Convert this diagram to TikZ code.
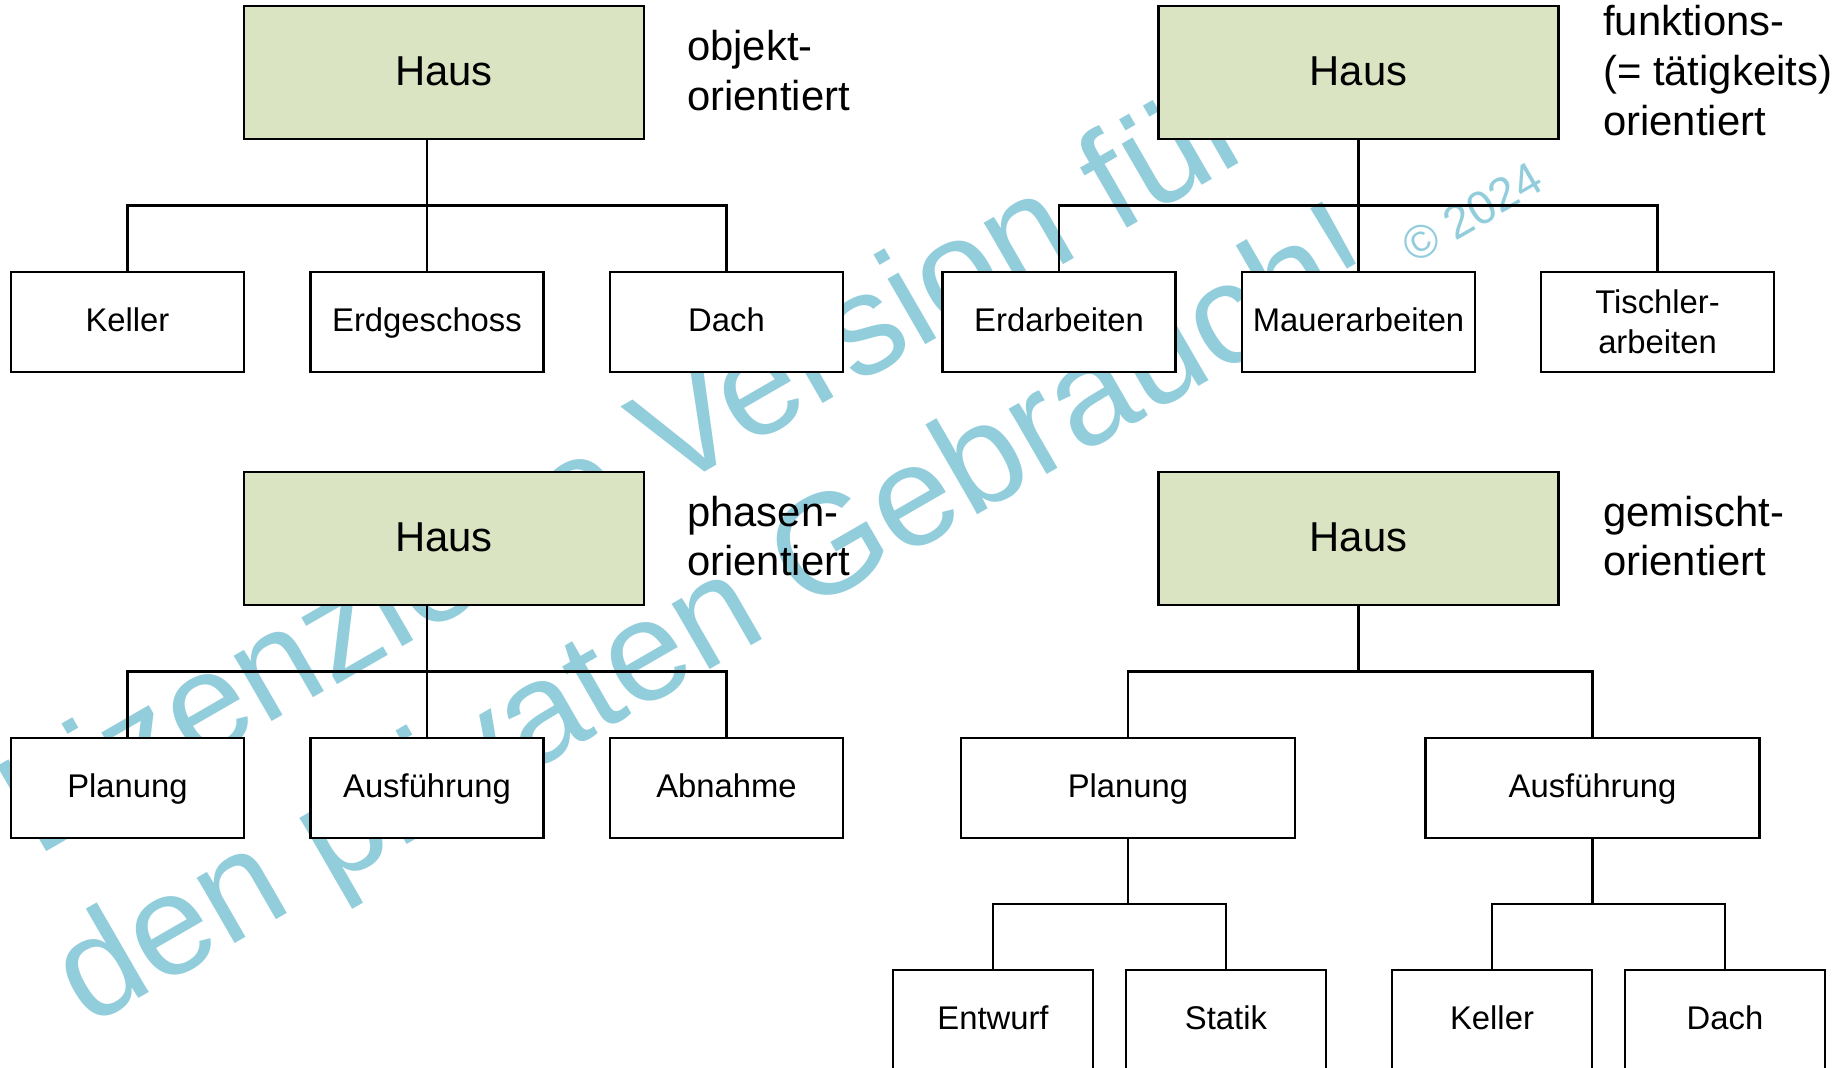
\documentclass[tikz,border=0pt]{standalone}
\usepackage{fontspec}
\setmainfont{Liberation Sans}
\usetikzlibrary{calc}
\definecolor{hausfill}{RGB}{219,228,194}
\definecolor{wmblue}{RGB}{146,205,220}
\begin{document}
\begin{tikzpicture}[x=1pt,y=-1pt,
  root/.style={draw=black, line width=2.4pt, fill=hausfill,
    minimum width=400pt, minimum height=133pt, inner sep=0pt,
    font=\fontsize{41.8}{50}\selectfont, text height=29.3pt, text depth=4.2pt},
  leaf/.style={draw=black, line width=2.2pt, fill=white,
    minimum width=233pt, minimum height=100pt, inner sep=0pt,
    font=\fontsize{32.8}{40}\selectfont, text height=23pt, text depth=3.3pt},
  wide/.style={leaf, minimum width=334pt},
  small/.style={leaf, minimum width=200pt},
  label/.style={anchor=base west, inner sep=0pt, font=\fontsize{41.8}{50}\selectfont},
  conn/.style={draw=black, line width=2.9pt},
  wm/.style={text=wmblue, anchor=base west, inner sep=0pt, rotate=30,
    font=\fontsize{143}{172}\selectfont},
  wmsmall/.style={wm, font=\fontsize{47}{56}\selectfont}
]
\path[use as bounding box, fill=white] (0,0) rectangle (1842,1068);

% watermark in the background
\node[wm] (wm1) at (36,858) {Lizenzierte Version für};
\node[wm] (wm2) at (88.6,1028) {den privaten Gebrauch!};
\node[wmsmall] (wm3) at (1414,265) {© 2024};

% object oriented
\node[root] (hausA) at (444,72.5) {Haus};
\node[leaf] (keller) at (127.5,322) {Keller};
\node[leaf] (erdg) at (427,322) {Erdgeschoss};
\node[leaf] (dachA) at (726.5,322) {Dach};
\node[label] (lblA1) at (687,60) {objekt-};
\node[label] (lblA2) at (687,110) {orientiert};
\coordinate (barA) at ($(hausA.south)!0.5!(erdg.north)$);
\draw[conn] (erdg.north |- hausA.south) -- (erdg.north);
\draw[conn] (keller.north) |- (barA) -| (dachA.north);

% function oriented
\node[root] (hausB) at (1358.5,72.5) {Haus};
\node[leaf] (erdarb) at (1059,322) {Erdarbeiten};
\node[leaf] (mauer) at (1358.5,322) {Mauerarbeiten};
\node[leaf, text height={}, text depth={}, align=center] (tisch) at (1657.5,322) {Tischler-\\arbeiten};
\node[label] (lblB1) at (1603,35) {funktions-};
\node[label] (lblB2) at (1603,85) {(= tätigkeits)};
\node[label] (lblB3) at (1603,135) {orientiert};
\coordinate (barB) at ($(hausB.south)!0.5!(mauer.north)$);
\draw[conn] (hausB.south) -- (mauer.north);
\draw[conn] (erdarb.north) |- (barB) -| (tisch.north);

% phase oriented
\node[root] (hausC) at (444,538.5) {Haus};
\node[leaf] (plan) at (127.5,788) {Planung};
\node[leaf] (ausf) at (427,788) {Ausführung};
\node[leaf] (abn) at (726.5,788) {Abnahme};
\node[label] (lblC1) at (687,526) {phasen-};
\node[label] (lblC2) at (687,575) {orientiert};
\coordinate (barC) at ($(hausC.south)!0.5!(ausf.north)$);
\draw[conn] (ausf.north |- hausC.south) -- (ausf.north);
\draw[conn] (plan.north) |- (barC) -| (abn.north);

% mixed
\node[root] (hausD) at (1358.5,538.5) {Haus};
\node[wide] (planD) at (1128,788) {Planung};
\node[wide] (ausfD) at (1592.5,788) {Ausführung};
\node[small] (entw) at (993,1020) {Entwurf};
\node[small] (statik) at (1226,1020) {Statik};
\node[small] (kellerD) at (1492,1020) {Keller};
\node[small] (dachD) at (1725,1020) {Dach};
\node[label] (lblD1) at (1603,526) {gemischt-};
\node[label] (lblD2) at (1603,575) {orientiert};
\coordinate (barD) at ($(hausD.south)!0.5!(planD.north)$);
\draw[conn] (hausD.south) -- (hausD.south |- barD);
\draw[conn] (planD.north) |- (barD) -| (ausfD.north);
\coordinate (barP) at ($(planD.south)!0.5!(entw.north)$);
\draw[conn] (planD.south) -- (planD.south |- barP);
\draw[conn] (entw.north) |- (barP) -| (statik.north);
\coordinate (barQ) at ($(ausfD.south)!0.5!(kellerD.north)$);
\draw[conn] (ausfD.south) -- (ausfD.south |- barQ);
\draw[conn] (kellerD.north) |- (barQ) -| (dachD.north);
\end{tikzpicture}
\end{document}
